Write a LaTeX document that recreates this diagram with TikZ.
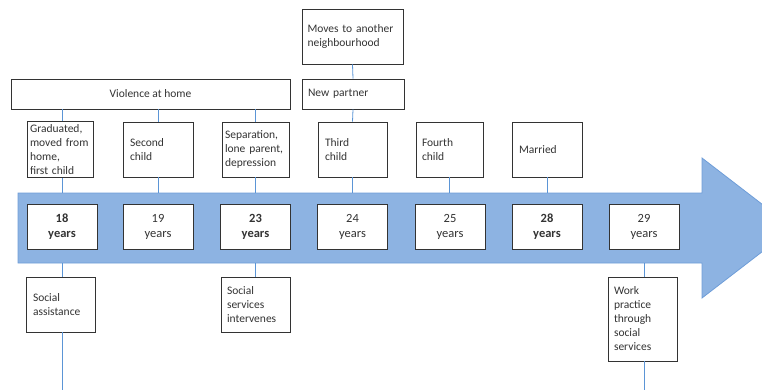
\documentclass[tikz,border=0pt]{standalone}
\usepackage{fontspec}
\setmainfont{Carlito}
\definecolor{arrowfill}{HTML}{8DB3E2}
\definecolor{arrowedge}{HTML}{6E9DD8}
\definecolor{linkblue}{HTML}{5B95D6}
\definecolor{boxtext}{HTML}{333333}
\tikzset{
  evbox/.style={draw=black!80, line width=0.9pt, fill=white, text=boxtext,
    font=\fontsize{11.5}{14}\selectfont, align=left, inner sep=4pt},
  yearbox/.style={evbox, align=center, minimum width=70pt, minimum height=45pt,
    font=\fontsize{12.5}{15}\selectfont},
  link/.style={draw=linkblue, line width=0.8pt}
}
\begin{document}
\begin{tikzpicture}[x=1pt,y=-1pt]
  \clip (0,0) rectangle (762,390);
  \useasboundingbox (0,0) rectangle (762,390);

  \coordinate (bodytop) at (0,193);
  \coordinate (bodybot) at (0,263);
  \coordinate (pagebot) at (0,392);

  % arrow
  \draw[fill=arrowfill, draw=arrowedge, line width=0.8pt]
    (18,193) -- (702,193) -- (702,158) -- (793,228) -- (702,298)
    -- (702,263) -- (18,263) -- cycle;

  % years
  \node[yearbox] (y18) at (62,226.5) {\textbf{18}\\\textbf{years}};
  \node[yearbox] (y19) at (158,226.5) {19\\years};
  \node[yearbox] (y23) at (255.5,226.5) {\textbf{23}\\\textbf{years}};
  \node[yearbox] (y24) at (352.5,226.5) {24\\years};
  \node[yearbox] (y25) at (450,226.5) {25\\years};
  \node[yearbox] (y28) at (547,226.5) {\textbf{28}\\\textbf{years}};
  \node[yearbox] (y29) at (644,226.5) {29\\years};

  % events above
  \node[evbox, minimum width=66pt, minimum height=55pt, text width=60pt,
    inner sep=3pt] (grad) at (60,149.5)
    {Graduated,\\moved from\\home,\\first child};
  \node[evbox, minimum width=70pt, minimum height=55pt, text width=56pt] (second) at (158,149.5) {Second\\child};
  \node[evbox, minimum width=67pt, minimum height=55pt, text width=61pt,
    inner sep=3pt] (separ) at (255.5,149.5) {Separation,\\lone parent,\\depression};
  \node[evbox, minimum width=69pt, minimum height=55pt, text width=55pt] (third) at (352.5,149.5) {Third\\child};
  \node[evbox, minimum width=67pt, minimum height=55pt, text width=55pt] (fourth) at (449.5,149.5) {Fourth\\child};
  \node[evbox, minimum width=70pt, minimum height=55pt, text width=56pt] (married) at (547,149.5) {Married};

  \node[evbox, minimum width=279pt, minimum height=30pt, align=center] (violence) at (150.5,94) {Violence at home};
  \node[evbox, minimum width=102pt, minimum height=30pt, text width=90pt] (partner) at (353,94) {New partner};
  \node[evbox, minimum width=101pt, minimum height=55pt, text width=90pt] (moves) at (352.5,36.5) {Moves to another\\neighbourhood};

  % events below
  \node[evbox, minimum width=69pt, minimum height=55pt, text width=55pt] (socass) at (60.5,304.5) {Social\\assistance};
  \node[evbox, minimum width=69pt, minimum height=55pt, text width=57pt,
    inner sep=3pt] (socserv) at (255.5,304.5) {Social\\services\\intervenes};
  \node[evbox, minimum width=69pt, minimum height=84pt, text width=57pt,
    inner sep=3pt] (work) at (642.5,319) {Work\\practice\\through\\social\\services};

  % links
  \draw[link] (y18.north |- violence.south) -- (y18.north |- grad.north);
  \draw[link] (y19.north |- violence.south) -- (second.north);
  \draw[link] (y23.north |- violence.south) -- (separ.north);
  \draw[link] (moves.south) -- (partner.north);
  \draw[link] (partner.south) -- (third.north);
  \draw[link] (y18.north |- grad.south) -- (y18.north |- bodytop);
  \draw[link] (second.south) -- (second.south |- bodytop);
  \draw[link] (separ.south) -- (separ.south |- bodytop);
  \draw[link] (third.south) -- (third.south |- bodytop);
  \draw[link] (fourth.south) -- (fourth.south |- bodytop);
  \draw[link] (married.south) -- (married.south |- bodytop);
  \draw[link] (y18.south |- bodybot) -- (y18.south |- socass.north);
  \draw[link] (y18.south |- socass.south) -- (y18.south |- pagebot);
  \draw[link] (y23.south |- bodybot) -- (y23.south |- socserv.north);
  \draw[link] (y29.south |- bodybot) -- (y29.south |- work.north);
  \draw[link] (y29.south |- work.south) -- (y29.south |- pagebot);
\end{tikzpicture}
\end{document}
